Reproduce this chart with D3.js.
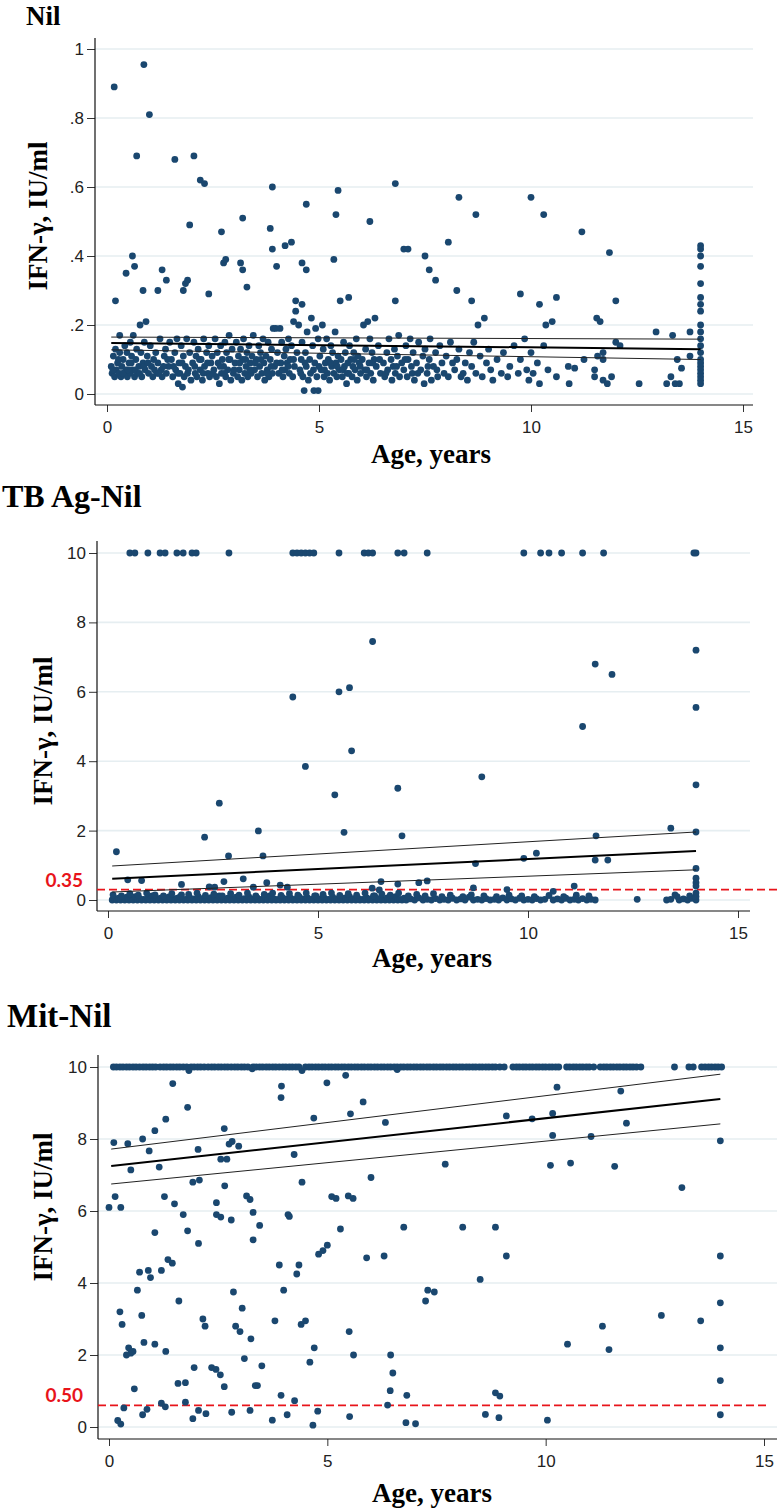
<!DOCTYPE html>
<html>
<head>
<meta charset="utf-8">
<script src="https://cdn.jsdelivr.net/npm/d3@7/dist/d3.min.js"></script>
<style>
  body { margin: 0; background: #fff; }
  svg { display: block; }
</style>
</head>
<body>
<svg id="chart"></svg>
<script>
// ---- data: [age, IFN-g IU/ml] ----
var nilPts = [
  [0.17,.89],[0.87,.955],[1.0,.81],[0.7,.69],[1.6,.68],[2.05,.69],[2.2,.62],[2.3,.61],[1.95,.49],[3.2,.51],[3.9,.60],
  [4.7,.55],[5.45,.59],[5.4,.52],[6.2,.50],[6.8,.61],[8.3,.57],[8.7,.52],[10.0,.57],[10.3,.52],[11.2,.47],[11.85,.41],
  [7.0,.42],[7.5,.40],[7.6,.36],[0.2,.27],[0.45,.35],[0.6,.40],[0.65,.37],[0.85,.30],[1.3,.36],[1.4,.33],[1.2,.30],
  [1.8,.30],[1.85,.32],[1.9,.33],[2.4,.29],[2.7,.47],[2.75,.38],[2.8,.39],[3.15,.38],[3.2,.36],[3.3,.31],[3.85,.48],
  [3.9,.42],[4.0,.37],[4.2,.43],[4.35,.44],[4.45,.27],[4.6,.26],[4.6,.38],[4.7,.36],[5.35,.39],[5.5,.27],[5.7,.28],
  [6.8,.27],[7.1,.42],[7.75,.33],[8.05,.44],[8.25,.30],[8.6,.27],[9.75,.29],[10.2,.26],[10.35,.20],[10.6,.28],[10.5,.21],
  [11.55,.22],[11.63,.21],[12.0,.27],[12.95,.18],[13.34,.17],[13.75,.18],[12.0,.15],[12.1,.14],
  [0.1,.08],[0.12,.06],[0.15,.11],[0.18,.05],[0.2,.13],[0.22,.07],[0.25,.09],[0.28,.06],[0.3,.12],[0.3,.17],[0.33,.05],
  [0.35,.08],[0.38,.1],[0.4,.06],[0.42,.14],[0.45,.07],[0.47,.12],[0.48,.05],
  [0.52,.09],[0.55,.15],[0.55,.06],[0.58,.11],[0.6,.07],[0.62,.17],[0.65,.05],[0.68,.1],[0.7,.13],[0.72,.06],[0.75,.08],
  [0.78,.2],[0.8,.12],[0.82,.05],[0.85,.09],[0.88,.15],[0.9,.07],[0.92,.21],[0.95,.11],[0.98,.06],
  [1.02,.14],[1.05,.08],[1.08,.05],[1.1,.1],[1.15,.12],[1.18,.06],[1.2,.09],[1.25,.16],[1.28,.07],[1.3,.05],[1.35,.11],
  [1.38,.13],[1.4,.06],[1.45,.08],[1.48,.15],
  [1.52,.1],[1.55,.05],[1.6,.12],[1.62,.07],[1.65,.16],[1.68,.03],[1.7,.09],[1.72,.06],[1.75,.14],[1.78,.02],[1.8,.11],
  [1.82,.05],[1.85,.08],[1.88,.16],[1.9,.06],[1.95,.12],[1.98,.04],
  [2.02,.09],[2.05,.15],[2.08,.06],[2.1,.11],[2.12,.05],[2.15,.13],[2.2,.07],[2.22,.1],[2.25,.04],[2.28,.16],[2.3,.08],
  [2.35,.12],[2.38,.06],[2.4,.14],[2.42,.05],[2.45,.09],[2.48,.11],
  [2.52,.07],[2.55,.16],[2.58,.05],[2.6,.12],[2.62,.09],[2.65,.03],[2.68,.14],[2.7,.06],[2.72,.1],[2.75,.08],[2.78,.15],
  [2.8,.05],[2.82,.12],[2.85,.07],[2.88,.17],[2.9,.1],[2.92,.04],[2.95,.13],[2.98,.06],
  [3.02,.09],[3.05,.15],[3.08,.05],[3.1,.11],[3.12,.07],[3.15,.13],[3.18,.04],[3.2,.1],[3.22,.16],[3.25,.06],[3.28,.08],
  [3.3,.12],[3.32,.05],[3.35,.14],[3.38,.09],[3.4,.06],[3.42,.11],[3.45,.17],[3.48,.07],
  [3.52,.1],[3.55,.05],[3.58,.14],[3.6,.08],[3.62,.12],[3.65,.06],[3.68,.16],[3.7,.09],[3.72,.04],[3.75,.11],[3.78,.07],
  [3.8,.15],[3.82,.05],[3.85,.1],[3.88,.13],[3.9,.06],[3.92,.19],[3.95,.08],[3.98,.19],
  [4.02,.12],[4.05,.06],[4.08,.19],[4.1,.09],[4.12,.15],[4.15,.05],[4.18,.11],[4.2,.07],[4.22,.13],[4.25,.09],[4.28,.16],
  [4.3,.06],[4.32,.1],[4.35,.14],[4.38,.05],[4.4,.21],[4.42,.08],[4.45,.24],[4.48,.12],
  [4.52,.2],[4.55,.07],[4.58,.1],[4.6,.15],[4.62,.05],[4.65,.01],[4.68,.12],[4.7,.08],[4.72,.18],[4.75,.04],[4.78,.1],
  [4.8,.06],[4.82,.22],[4.85,.14],[4.88,.01],[4.9,.09],[4.92,.19],[4.95,.05],[4.98,.16],[4.98,.01],
  [5.02,.11],[5.05,.07],[5.08,.2],[5.1,.13],[5.12,.05],[5.15,.09],[5.18,.16],[5.2,.06],[5.22,.1],[5.25,.04],[5.28,.14],
  [5.3,.08],[5.32,.12],[5.35,.06],[5.38,.18],[5.4,.09],[5.42,.05],[5.45,.11],[5.48,.07],
  [5.52,.1],[5.55,.05],[5.58,.15],[5.6,.08],[5.62,.12],[5.65,.03],[5.68,.09],[5.7,.06],[5.72,.14],[5.75,.1],[5.78,.05],
  [5.8,.08],[5.82,.12],[5.85,.07],[5.88,.16],[5.9,.04],[5.92,.11],[5.95,.09],[5.98,.06],
  [6.02,.1],[6.05,.2],[6.08,.07],[6.1,.13],[6.12,.05],[6.15,.21],[6.18,.09],[6.2,.16],[6.22,.06],[6.25,.12],[6.28,.04],
  [6.3,.1],[6.32,.22],[6.35,.08],[6.4,.14],[6.45,.06],
  [6.52,.09],[6.55,.05],[6.6,.12],[6.62,.07],[6.65,.16],[6.7,.1],[6.72,.04],[6.75,.08],[6.78,.13],[6.8,.06],[6.85,.11],
  [6.88,.17],[6.9,.05],[6.95,.09],
  [7.0,.07],[7.05,.14],[7.08,.05],[7.1,.1],[7.15,.16],[7.2,.06],[7.22,.12],[7.25,.04],[7.3,.09],[7.35,.15],[7.4,.07],
  [7.45,.11],[7.48,.03],[7.5,.13],[7.55,.06],[7.6,.1],[7.62,.16],[7.65,.04],[7.7,.08],[7.75,.12],[7.8,.05],[7.85,.14],
  [7.9,.09],[7.95,.06],
  [8.0,.11],[8.05,.05],[8.1,.15],[8.2,.07],[8.25,.1],[8.3,.13],[8.4,.06],[8.45,.09],[8.5,.04],[8.55,.12],[8.6,.08],
  [8.65,.15],[8.7,.06],[8.75,.2],[8.8,.11],[8.85,.05],[8.9,.22],[8.95,.09],
  [9.0,.13],[9.05,.07],[9.1,.04],[9.2,.1],[9.3,.06],[9.35,.12],[9.45,.05],[9.5,.08],[9.6,.14],[9.7,.06],[9.75,.1],
  [9.85,.16],[9.9,.07],[9.95,.04],
  [10.0,.12],[10.05,.06],[10.15,.09],[10.2,.03],[10.3,.14],[10.4,.07],[10.6,.05],[10.88,.08],[11.03,.075],[10.9,.03],
  [11.25,.10],[11.57,.11],[11.7,.12],[11.7,.1],[11.5,.07],[11.5,.05],[11.7,.04],[11.8,.03],[11.9,.05],
  [12.55,.03],[13.2,.03],[13.3,.05],[13.4,.03],[13.5,.03],[13.45,.1],[13.55,.075],[13.75,.11],
  [14,.43],[14,.42],[14,.40],[14,.37],[14,.32],[14,.28],[14,.26],[14,.24],[14,.20],[14,.18],[14,.16],[14,.14],
  [14,.12],[14,.10],[14,.09],[14,.08],[14,.07],[14,.06],[14,.05],[14,.04],[14,.03],
  [0.14,.07],[0.27,.1],[0.37,.06],[0.5,.07],[0.57,.09],[0.67,.07],[0.77,.06],[0.87,.08],[0.97,.09],[1.12,.07],
  [1.22,.06],[1.33,.08],[1.43,.1],[1.57,.08],[1.67,.06],[1.77,.09],[1.92,.07],[2.07,.08],[2.18,.1],[2.27,.06],
  [2.37,.09],[2.5,.06],[2.67,.08],[2.77,.06],[2.87,.1],[3.0,.07],[3.13,.09],[3.27,.1],[3.37,.07],[3.5,.09],
  [3.63,.1],[3.77,.06],[3.87,.08],[4.0,.09],[4.13,.07],[4.27,.08],[4.4,.1],[4.57,.06],[4.67,.09],[4.87,.07],
  [5.0,.08],[5.13,.07],[5.27,.09],[5.43,.08],[5.57,.07],[5.67,.06],[5.83,.1],[5.97,.08],[6.13,.07],[6.27,.09],
  [6.43,.1],[6.58,.06],[6.83,.08],[7.03,.1],[7.18,.08],[7.33,.06],[7.57,.08],[7.78,.07],[8.15,.09],[8.35,.05]
];
var nilFitAge = [0.1, 14];
var nilFitMid = [0.148, 0.130];
var nilFitHi  = [0.165, 0.159];
var nilFitLo  = [0.128, 0.100];

var tbPts = [
  // values stuck at the 10 ceiling
  [0.52,10],[0.64,10],[0.95,10],[1.24,10],[1.36,10],[1.64,10],[1.79,10],[2.0,10],[2.1,10],[2.88,10],[4.4,10],[4.5,10],
  [4.6,10],[4.7,10],[4.8,10],[4.9,10],[5.5,10],[6.1,10],[6.2,10],[6.3,10],[6.9,10],[7.05,10],[7.6,10],[9.9,10],
  [10.3,10],[10.5,10],[10.8,10],[11.3,10],[11.8,10],[13.95,10],[14.0,10],
  // scattered
  [4.4,5.85],[4.7,3.85],[5.5,6.0],[5.75,6.12],[5.8,4.3],[5.4,3.03],[5.62,1.95],[6.3,7.45],[6.9,3.22],[7.0,1.85],
  [8.9,3.55],[11.3,5.0],[11.6,6.8],[12.0,6.5],[11.62,1.85],[11.6,1.15],[11.9,1.15],[13.4,2.07],
  [14,7.2],[14,5.55],[14,3.32],[14,1.96],[14,0.91],[14,0.63],[14,0.5],[14,0.4],
  [0.2,1.39],[2.3,1.81],[2.65,2.79],[2.87,1.27],[3.58,1.99],[3.69,1.27],[8.75,1.05],[9.9,1.2],[10.2,1.35],
  [0.47,0.58],[0.8,0.56],[1.75,0.45],[2.41,0.38],[2.54,0.37],[2.76,0.53],[3.22,0.61],[3.46,0.37],[3.78,0.5],
  [4.1,0.43],[4.27,0.37],[6.29,0.34],[6.46,0.29],[6.5,0.53],[6.9,0.46],[7.4,0.5],[7.6,0.55],[8.7,0.35],[9.5,0.3],
  [10.6,0.25],[11.1,0.4],[13.5,0.15],
  // the band near zero
  [0.1,0],[0.15,.03],[0.2,0],[0.25,.05],[0.3,0],[0.35,.02],[0.4,0],[0.45,.08],[0.5,0],[0.55,.03],[0.6,0],[0.65,.1],
  [0.7,0],[0.75,.04],[0.8,0],[0.85,.02],[0.9,0],[0.95,.06],[1.0,0],[1.05,.12],[1.1,0],[1.15,.03],[1.2,0],[1.25,.05],
  [1.3,0],[1.35,.02],[1.4,0],[1.45,.09],[1.5,0],[1.55,.03],[1.6,0],[1.65,.05],[1.7,0],[1.75,.15],[1.8,0],[1.85,.02],
  [1.9,0],[1.95,.06],[2.0,0],[2.05,.03],[2.1,0],[2.15,.1],[2.2,0],[2.25,.04],[2.3,0],[2.35,.02],[2.4,0],[2.45,.07],
  [2.5,0],[2.55,.03],[2.6,0],[2.65,.12],[2.7,0],[2.75,.02],[2.8,0],[2.85,.05],[2.9,0],[2.95,.03],[3.0,0],[3.05,.08],
  [3.1,0],[3.15,.02],[3.2,0],[3.25,.04],[3.3,0],[3.35,.1],[3.4,0],[3.45,.03],[3.5,0],[3.55,.06],[3.6,0],[3.65,.02],
  [3.7,0],[3.75,.05],[3.8,0],[3.85,.12],[3.9,0],[3.95,.03],[4.0,0],[4.05,.02],[4.1,0],[4.15,.07],[4.2,0],[4.25,.03],
  [4.3,0],[4.35,.05],[4.4,0],[4.45,.02],[4.5,0],[4.55,.1],[4.6,0],[4.65,.03],[4.7,0],[4.75,.06],[4.8,0],[4.85,.02],
  [4.9,0],[4.95,.12],[5.0,0],[5.05,.03],[5.1,0],[5.15,.05],[5.2,0],[5.25,.02],[5.3,0],[5.35,.08],[5.4,0],[5.45,.03],
  [5.5,0],[5.55,.02],[5.6,0],[5.65,.06],[5.7,0],[5.75,.1],[5.8,0],[5.85,.03],[5.9,0],[5.95,.05],[6.0,0],[6.05,.02],
  [6.1,0],[6.15,.07],[6.2,0],[6.25,.03],[6.3,0],[6.35,.12],[6.4,0],[6.45,.04],[6.5,0],[6.55,.02],[6.6,0],[6.65,.06],
  [6.7,0],[6.75,.03],[6.8,0],[6.85,.1],[6.9,0],[6.95,.02],[7.0,0],[7.05,.05],[7.1,0],[7.2,.03],[7.3,0],[7.4,.06],
  [7.5,0],[7.6,.02],[7.7,0],[7.8,.04],[7.9,0],[8.0,.02],[8.1,0],[8.2,.05],[8.3,0],[8.4,.03],[8.5,0],[8.6,.08],
  [8.7,0],[8.8,.02],[8.9,0],[9.0,.04],[9.1,0],[9.2,.02],[9.3,0],[9.4,.06],[9.5,0],[9.6,.03],[9.7,0],[9.8,.05],
  [9.9,0],[10.0,.02],[10.1,0],[10.2,.04],[10.3,0],[10.4,.02],[10.6,0],[10.7,.03],[10.8,0],[10.9,.05],[11.0,0],
  [11.1,.02],[11.2,0],[11.3,.04],[11.4,0],[11.5,.02],[11.6,0],[12.6,.02],[13.3,0],[13.4,.02],[13.6,0],[13.7,.03],
  [13.8,0],[13.9,.05],[14,0],[14,.1],[14,.2],
  [0.12,.15],[0.32,.12],[0.52,.18],[0.72,.14],[0.92,.2],[1.12,.15],[1.32,.12],[1.52,.18],[1.72,.1],[1.92,.16],
  [2.12,.2],[2.32,.13],[2.52,.17],[2.72,.12],[2.92,.18],[3.12,.14],[3.32,.2],[3.52,.12],[3.72,.16],[3.92,.2],
  [4.12,.13],[4.32,.18],[4.52,.14],[4.72,.2],[4.92,.12],[5.12,.16],[5.32,.2],[5.52,.13],[5.72,.18],[5.92,.14],
  [6.12,.2],[6.32,.12],[6.52,.17],[6.72,.14],[6.92,.2],[7.15,.12],[7.35,.16],[7.55,.12],[7.75,.18],[7.95,.1],
  [8.15,.14],[8.45,.1],[8.65,.15],[8.95,.12],[9.25,.1],[9.55,.14],[9.85,.12],[10.15,.1],[10.5,.13],[10.85,.1],
  [11.15,.14],[11.45,.12],[13.55,.1],[13.85,.12]
];
var tbFitAge = [0.1, 14];
var tbFitMid = [0.61, 1.41];
var tbFitHi  = [0.98, 1.96];
var tbFitLo  = [0.23, 0.87];
var tbCut = 0.3, tbCutLabel = "0.35";

var mitTopAges = [0.1,0.17,0.25,0.32,0.4,0.47,0.55,0.62,0.7,0.78,0.85,0.93,1.0,1.07,1.17,1.25,1.32,1.4,1.47,1.55,1.62,
  1.7,1.78,1.88,1.95,2.03,2.1,2.18,2.27,2.35,2.42,2.5,2.57,2.65,2.72,2.8,2.88,2.95,3.03,3.1,3.18,3.3,3.37,3.45,3.52,
  3.6,3.67,3.75,3.82,3.9,3.98,4.05,4.13,4.2,4.28,4.35,4.5,4.58,4.65,4.73,4.8,4.88,4.95,5.03,5.1,5.18,5.25,5.33,5.4,
  5.48,5.55,5.63,5.7,5.78,5.85,5.93,6.0,6.08,6.15,6.23,6.3,6.38,6.45,6.53,6.6,6.68,6.75,6.83,6.9,6.98,7.05,7.13,7.2,
  7.28,7.35,7.43,7.5,7.58,7.65,7.73,7.8,7.88,7.95,8.03,8.1,8.18,8.25,8.33,8.4,8.48,8.55,8.63,8.7,8.78,8.85,8.95,9.05,
  9.25,9.33,9.4,9.48,9.55,9.63,9.7,9.78,9.85,9.93,10.0,10.08,10.15,10.23,10.3,10.48,10.55,10.63,10.7,10.78,10.85,
  10.93,11.0,11.1,11.25,11.33,11.4,11.48,11.55,11.63,11.7,11.78,11.85,11.93,12.0,12.08,12.18,12.95,13.28,13.38,
  13.57,13.65,13.73,13.8,13.88,13.95,14.03];
var mitPts = [
  [1.83,9.9],[3.28,9.95],[4.42,9.9],[6.6,9.93],
  [0.0,6.1],[0.11,7.9],[0.14,6.4],[0.27,6.1],[0.43,7.87],[0.5,7.14],[0.77,8.0],[0.92,7.67],[1.05,8.23],[1.15,7.22],
  [1.3,8.55],[1.46,9.54],[1.27,6.4],[1.5,6.2],[1.8,8.88],[2.04,7.71],[1.92,6.8],[2.07,6.86],[2.46,6.23],[2.46,5.9],
  [2.56,5.83],[2.56,7.44],[2.7,7.44],[2.64,8.29],[2.75,7.86],[2.82,7.93],[2.97,7.8],[2.65,6.7],[3.15,6.42],[3.23,6.32],
  [3.3,5.96],[2.8,5.75],[3.95,9.47],[3.94,9.15],[4.24,7.57],[4.42,6.8],[4.13,5.85],[4.69,8.58],[4.99,9.56],[5.1,6.4],
  [5.42,9.77],[5.53,8.7],[5.48,6.42],[5.59,6.35],[5.82,9.03],[6.0,6.93],[6.33,8.46],
  [10.26,9.44],[11.72,9.33],[9.1,8.64],[9.69,8.56],[10.16,8.71],[10.16,8.1],[11.04,8.07],[11.85,8.44],[10.11,7.27],
  [10.57,7.33],[11.58,7.24],[13.12,6.65],[14.0,7.95],
  [0.25,3.2],[0.3,2.85],[0.45,2.2],[0.5,2.05],[0.55,2.1],[0.4,2.0],[0.7,4.3],[0.65,3.8],[0.75,3.1],[0.8,2.35],
  [0.9,4.35],[0.95,4.15],[1.05,2.3],[1.05,5.4],[1.2,4.35],[1.3,2.1],[1.35,4.65],[1.45,4.55],[1.6,3.5],[1.7,5.9],
  [1.8,5.45],[1.95,1.65],[2.05,5.1],[2.15,3.0],[2.2,2.8],[2.35,1.65],[2.45,1.6],[2.55,1.45],[2.85,3.75],[2.9,2.8],
  [3.0,2.65],[3.05,3.3],[3.1,1.9],[3.25,2.45],[3.3,5.2],[3.45,5.6],[3.5,1.7],[3.4,1.15],[3.8,2.95],[3.9,4.5],
  [4.0,3.8],[4.1,5.9],[4.3,4.25],[4.35,4.5],[4.4,2.85],[4.5,2.95],[4.6,1.8],[4.7,2.2],[4.8,4.8],[4.9,4.9],[5.0,5.05],
  [5.2,6.35],[5.3,5.5],[5.5,2.65],[5.6,2.0],[5.9,4.7],[6.3,4.75],[6.45,2.0],[6.5,1.5],[6.75,5.55],[7.25,3.5],[7.3,3.8],
  [7.45,3.75],[7.7,7.3],[8.1,5.55],[8.5,4.1],[8.85,5.55],[9.1,4.75],[10.5,2.3],[11.3,2.8],[11.45,2.15],[12.65,3.1],
  [13.55,2.95],[14,4.75],[14,3.45],[14,2.2],
  [0.2,0.18],[0.27,0.08],[0.34,0.53],[0.58,1.06],[0.77,0.34],[0.87,0.49],[1.2,0.66],[1.29,0.56],[1.58,1.21],
  [1.75,1.23],[1.75,0.69],[1.92,0.23],[2.05,0.46],[2.22,0.37],[2.64,1.12],[2.81,0.41],[3.23,0.46],[3.35,1.15],
  [3.74,0.19],[3.94,0.88],[4.08,0.34],[4.25,0.73],[4.67,0.05],[4.78,0.44],[5.51,0.29],[6.38,0.61],[6.44,1.01],
  [6.82,0.88],[6.8,0.12],[7.02,0.09],[8.62,0.35],[8.85,0.95],[8.95,0.86],[8.93,0.26],[10.04,0.19],[14.0,0.34],[14.0,1.29]
];
var mitFitAge = [0.05, 14];
var mitFitMid = [7.25, 9.11];
var mitFitHi  = [7.72, 9.80];
var mitFitLo  = [6.75, 8.42];
var mitCut = 0.6, mitCutLabel = "0.50";

var xTicks = [0, 5, 10, 15];

// ---- layout ----
var W = 777, H = 1508;
var svg = d3.select("#chart").attr("width", W).attr("height", H);
svg.append("rect").attr("width", W).attr("height", H).attr("fill", "#fff");

var dotColor = "#1a476f";
var serif = "'Liberation Serif', 'Times New Roman', serif";

var panels = [
  {title: "Nil", tx: 26, ty: 25, tsize: 27, left: 95, right: 753, top: 38, axisY: 405,
   xr: [107, 743], yr: [394, 49], ymax: 1, yTicks: [0, .2, .4, .6, .8, 1],
   ytx: 47, yty: 216, xtx: 431, xty: 463,
   pts: nilPts, fit: [nilFitAge, nilFitMid, nilFitHi, nilFitLo]},
  {title: "TB Ag-Nil", tx: 2, ty: 507, tsize: 32, left: 97, right: 750, top: 541, axisY: 911,
   xr: [108, 738], yr: [900, 553], ymax: 10, yTicks: [0, 2, 4, 6, 8, 10],
   ytx: 52, yty: 731, xtx: 432, xty: 967,
   pts: tbPts, fit: [tbFitAge, tbFitMid, tbFitHi, tbFitLo], cut: tbCut, cutLabel: tbCutLabel, cutEnd: 777},
  {title: "Mit-Nil", tx: 7, ty: 1027, tsize: 33, left: 98, right: 777, top: 1055, axisY: 1439,
   xr: [109, 764], yr: [1427, 1067], ymax: 10, yTicks: [0, 2, 4, 6, 8, 10],
   ytx: 52, yty: 1207, xtx: 432, xty: 1502,
   pts: mitPts.concat(mitTopAges.map(function(a){ return [a, 10]; })),
   fit: [mitFitAge, mitFitMid, mitFitHi, mitFitLo], cut: mitCut, cutLabel: mitCutLabel, cutEnd: 770}
];

var fmtY = function(d){
  if (d === 0 || d >= 1) return String(d);
  return String(d).replace("0.", ".");
};

panels.forEach(function(p){
  var x = d3.scaleLinear().domain([0, 15]).range(p.xr);
  var y = d3.scaleLinear().domain([0, p.ymax]).range(p.yr);
  var g = svg.append("g");

  // gridlines
  g.selectAll(".grid").data(p.yTicks).enter().append("line")
    .attr("x1", p.left).attr("x2", p.right)
    .attr("y1", function(d){ return y(d); }).attr("y2", function(d){ return y(d); })
    .attr("stroke", "#e6eef1").attr("stroke-width", 1.6);

  // y axis
  var yAxis = d3.axisLeft(y).tickValues(p.yTicks).tickFormat(fmtY).tickSize(8).tickPadding(3);
  var ya = g.append("g").attr("transform", "translate(" + p.left + ",0)").call(yAxis);
  ya.select(".domain").remove();
  g.append("line").attr("x1", p.left).attr("x2", p.left).attr("y1", p.top).attr("y2", p.axisY)
    .attr("stroke", "#111").attr("stroke-width", 1.2);

  // x axis
  var xAxis = d3.axisBottom(x).tickValues(xTicks).tickSize(7).tickPadding(9);
  var xa = g.append("g").attr("transform", "translate(0," + p.axisY + ")").call(xAxis);
  xa.select(".domain").remove();
  g.append("line").attr("x1", p.left).attr("x2", p.right).attr("y1", p.axisY).attr("y2", p.axisY)
    .attr("stroke", "#111").attr("stroke-width", 1.2);

  [ya, xa].forEach(function(a){
    a.selectAll("text").attr("font-family", "'Liberation Sans', Arial, sans-serif")
      .attr("font-size", 17).attr("fill", "#222");
    a.selectAll(".tick line").attr("stroke", "#333");
  });

  // cutoff line
  if (p.cut !== undefined) {
    g.append("line").attr("x1", p.left).attr("x2", p.cutEnd)
      .attr("y1", y(p.cut)).attr("y2", y(p.cut))
      .attr("stroke", "#e8141b").attr("stroke-width", 1.8).attr("stroke-dasharray", "8,4");
    g.append("text").attr("x", 83).attr("y", y(p.cut) - 3).attr("text-anchor", "end")
      .attr("font-family", "Lato, 'Open Sans', sans-serif").attr("font-weight", "bold")
      .attr("font-size", 19).attr("fill", "#e8141b").text(p.cutLabel);
  }

  // points
  g.selectAll(".dot").data(p.pts).enter().append("circle")
    .attr("cx", function(d){ return x(d[0]); })
    .attr("cy", function(d){ return y(d[1]); })
    .attr("r", 3.4).attr("fill", dotColor);

  // fitted line with CI
  var ages = p.fit[0];
  [[p.fit[2], 1, "#222"], [p.fit[3], 1, "#222"], [p.fit[1], 2, "#000"]].forEach(function(s){
    var line = d3.line().x(function(d, i){ return x(ages[i]); }).y(function(d){ return y(d); });
    g.append("path").datum(s[0]).attr("d", line).attr("fill", "none")
      .attr("stroke", s[2]).attr("stroke-width", s[1]);
  });

  // titles
  svg.append("text").attr("x", p.tx).attr("y", p.ty)
    .attr("font-family", serif).attr("font-weight", "bold")
    .attr("font-size", p.tsize).attr("fill", "#000").text(p.title);
  svg.append("text").attr("x", p.xtx).attr("y", p.xty).attr("text-anchor", "middle")
    .attr("font-family", serif).attr("font-weight", "bold")
    .attr("font-size", 27).attr("fill", "#000").text("Age, years");
  svg.append("text").attr("transform", "translate(" + p.ytx + "," + p.yty + ") rotate(-90)")
    .attr("text-anchor", "middle")
    .attr("font-family", serif).attr("font-weight", "bold")
    .attr("font-size", 27).attr("fill", "#000").text("IFN-\u03b3, IU/ml");
});
</script>
</body>
</html>
